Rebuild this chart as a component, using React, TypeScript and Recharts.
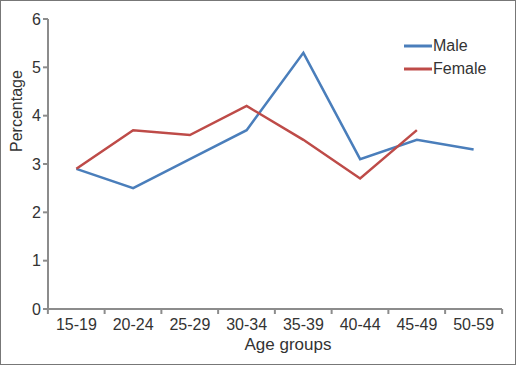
import { LineChart, Line, XAxis, YAxis, Legend } from 'recharts';

const ageGroups = ['15-19', '20-24', '25-29', '30-34', '35-39', '40-44', '45-49', '50-59'];
const male = [2.9, 2.5, 3.1, 3.7, 5.3, 3.1, 3.5, 3.3];
const female = [2.9, 3.7, 3.6, 4.2, 3.5, 2.7, 3.7, null];
const yTicks = [0, 1, 2, 3, 4, 5, 6];
const seriesOrder = ['Male', 'Female'];

const data = ageGroups.map((g, i) => ({ group: g, male: male[i], female: female[i] }));

const W = 516;
const H = 365;
const margin = { top: 19, right: 12, left: 8, bottom: 4 };
const yAxisWidth = 40;
const plotW = W - margin.left - margin.right - yAxisWidth;
const band = plotW / ageGroups.length;

const AXIS = '#8c8c8c';
const TEXT = '#333333';
const FONT = '"Liberation Sans", Arial, sans-serif';

function XTick(props: any) {
  const { x, y, payload, index } = props;
  const top = y - 8;
  return (
    <g>
      <line x1={x - band / 2} x2={x - band / 2} y1={top} y2={top + 5} stroke={AXIS} strokeWidth={2} />
      {index === ageGroups.length - 1 && (
        <line x1={x + band / 2} x2={x + band / 2} y1={top} y2={top + 5} stroke={AXIS} strokeWidth={2} />
      )}
      <text x={x} y={top + 21} textAnchor="middle" fill={TEXT} fontSize={16} fontFamily={FONT}>
        {payload.value}
      </text>
    </g>
  );
}

function LegendBox(props: any) {
  const items = [...(props.payload || [])].sort(
    (a: any, b: any) => seriesOrder.indexOf(a.value) - seriesOrder.indexOf(b.value)
  );
  return (
    <div style={{ fontFamily: FONT, fontSize: 16, color: TEXT }}>
      {items.map((p: any) => (
        <div key={p.value} style={{ display: 'flex', alignItems: 'center', height: 23 }}>
          <svg width={28} height={6} style={{ marginRight: 1 }}>
            <line x1={0} x2={28} y1={3} y2={3} stroke={p.color} strokeWidth={3} />
          </svg>
          <span>{p.value}</span>
        </div>
      ))}
    </div>
  );
}

export default function App() {
  return (
    <div
      style={{
        position: 'absolute',
        left: 0,
        top: 0,
        width: W,
        height: H,
        boxSizing: 'border-box',
        border: '1px solid #777',
        background: '#fff',
      }}
    >
      <LineChart width={W - 2} height={H - 2} data={data} margin={margin} style={{ marginLeft: -1, marginTop: -1 }}>
        <XAxis
          dataKey="group"
          scale="band"
          interval={0}
          tickLine={false}
          axisLine={{ stroke: AXIS, strokeWidth: 2 }}
          tick={<XTick />}
          height={50}
          label={{
            value: 'Age groups',
            position: 'insideBottom',
            offset: 9,
            dx: 13,
            fill: TEXT,
            fontSize: 17,
            fontFamily: FONT,
          }}
        />
        <YAxis
          domain={[0, 6]}
          ticks={yTicks}
          width={yAxisWidth}
          tickSize={5}
          tickLine={{ stroke: AXIS, strokeWidth: 2 }}
          axisLine={{ stroke: AXIS, strokeWidth: 2 }}
          tick={{ fill: TEXT, fontSize: 16, fontFamily: FONT }}
          label={{
            value: 'Percentage',
            angle: -90,
            position: 'insideLeft',
            offset: 8,
            dy: -12,
            fill: TEXT,
            fontSize: 16,
            fontFamily: FONT,
          }}
        />
        <Legend
          layout="horizontal"
          verticalAlign="middle"
          align="center"
          content={<LegendBox />}
          wrapperStyle={{ left: 404, top: 34, width: 110 }}
        />
        <Line
          type="linear"
          dataKey="male"
          name="Male"
          stroke="#4a7ebb"
          strokeWidth={2.5}
          dot={false}
          isAnimationActive={false}
        />
        <Line
          type="linear"
          dataKey="female"
          name="Female"
          stroke="#be4b48"
          strokeWidth={2.5}
          dot={false}
          isAnimationActive={false}
        />
      </LineChart>
    </div>
  );
}
